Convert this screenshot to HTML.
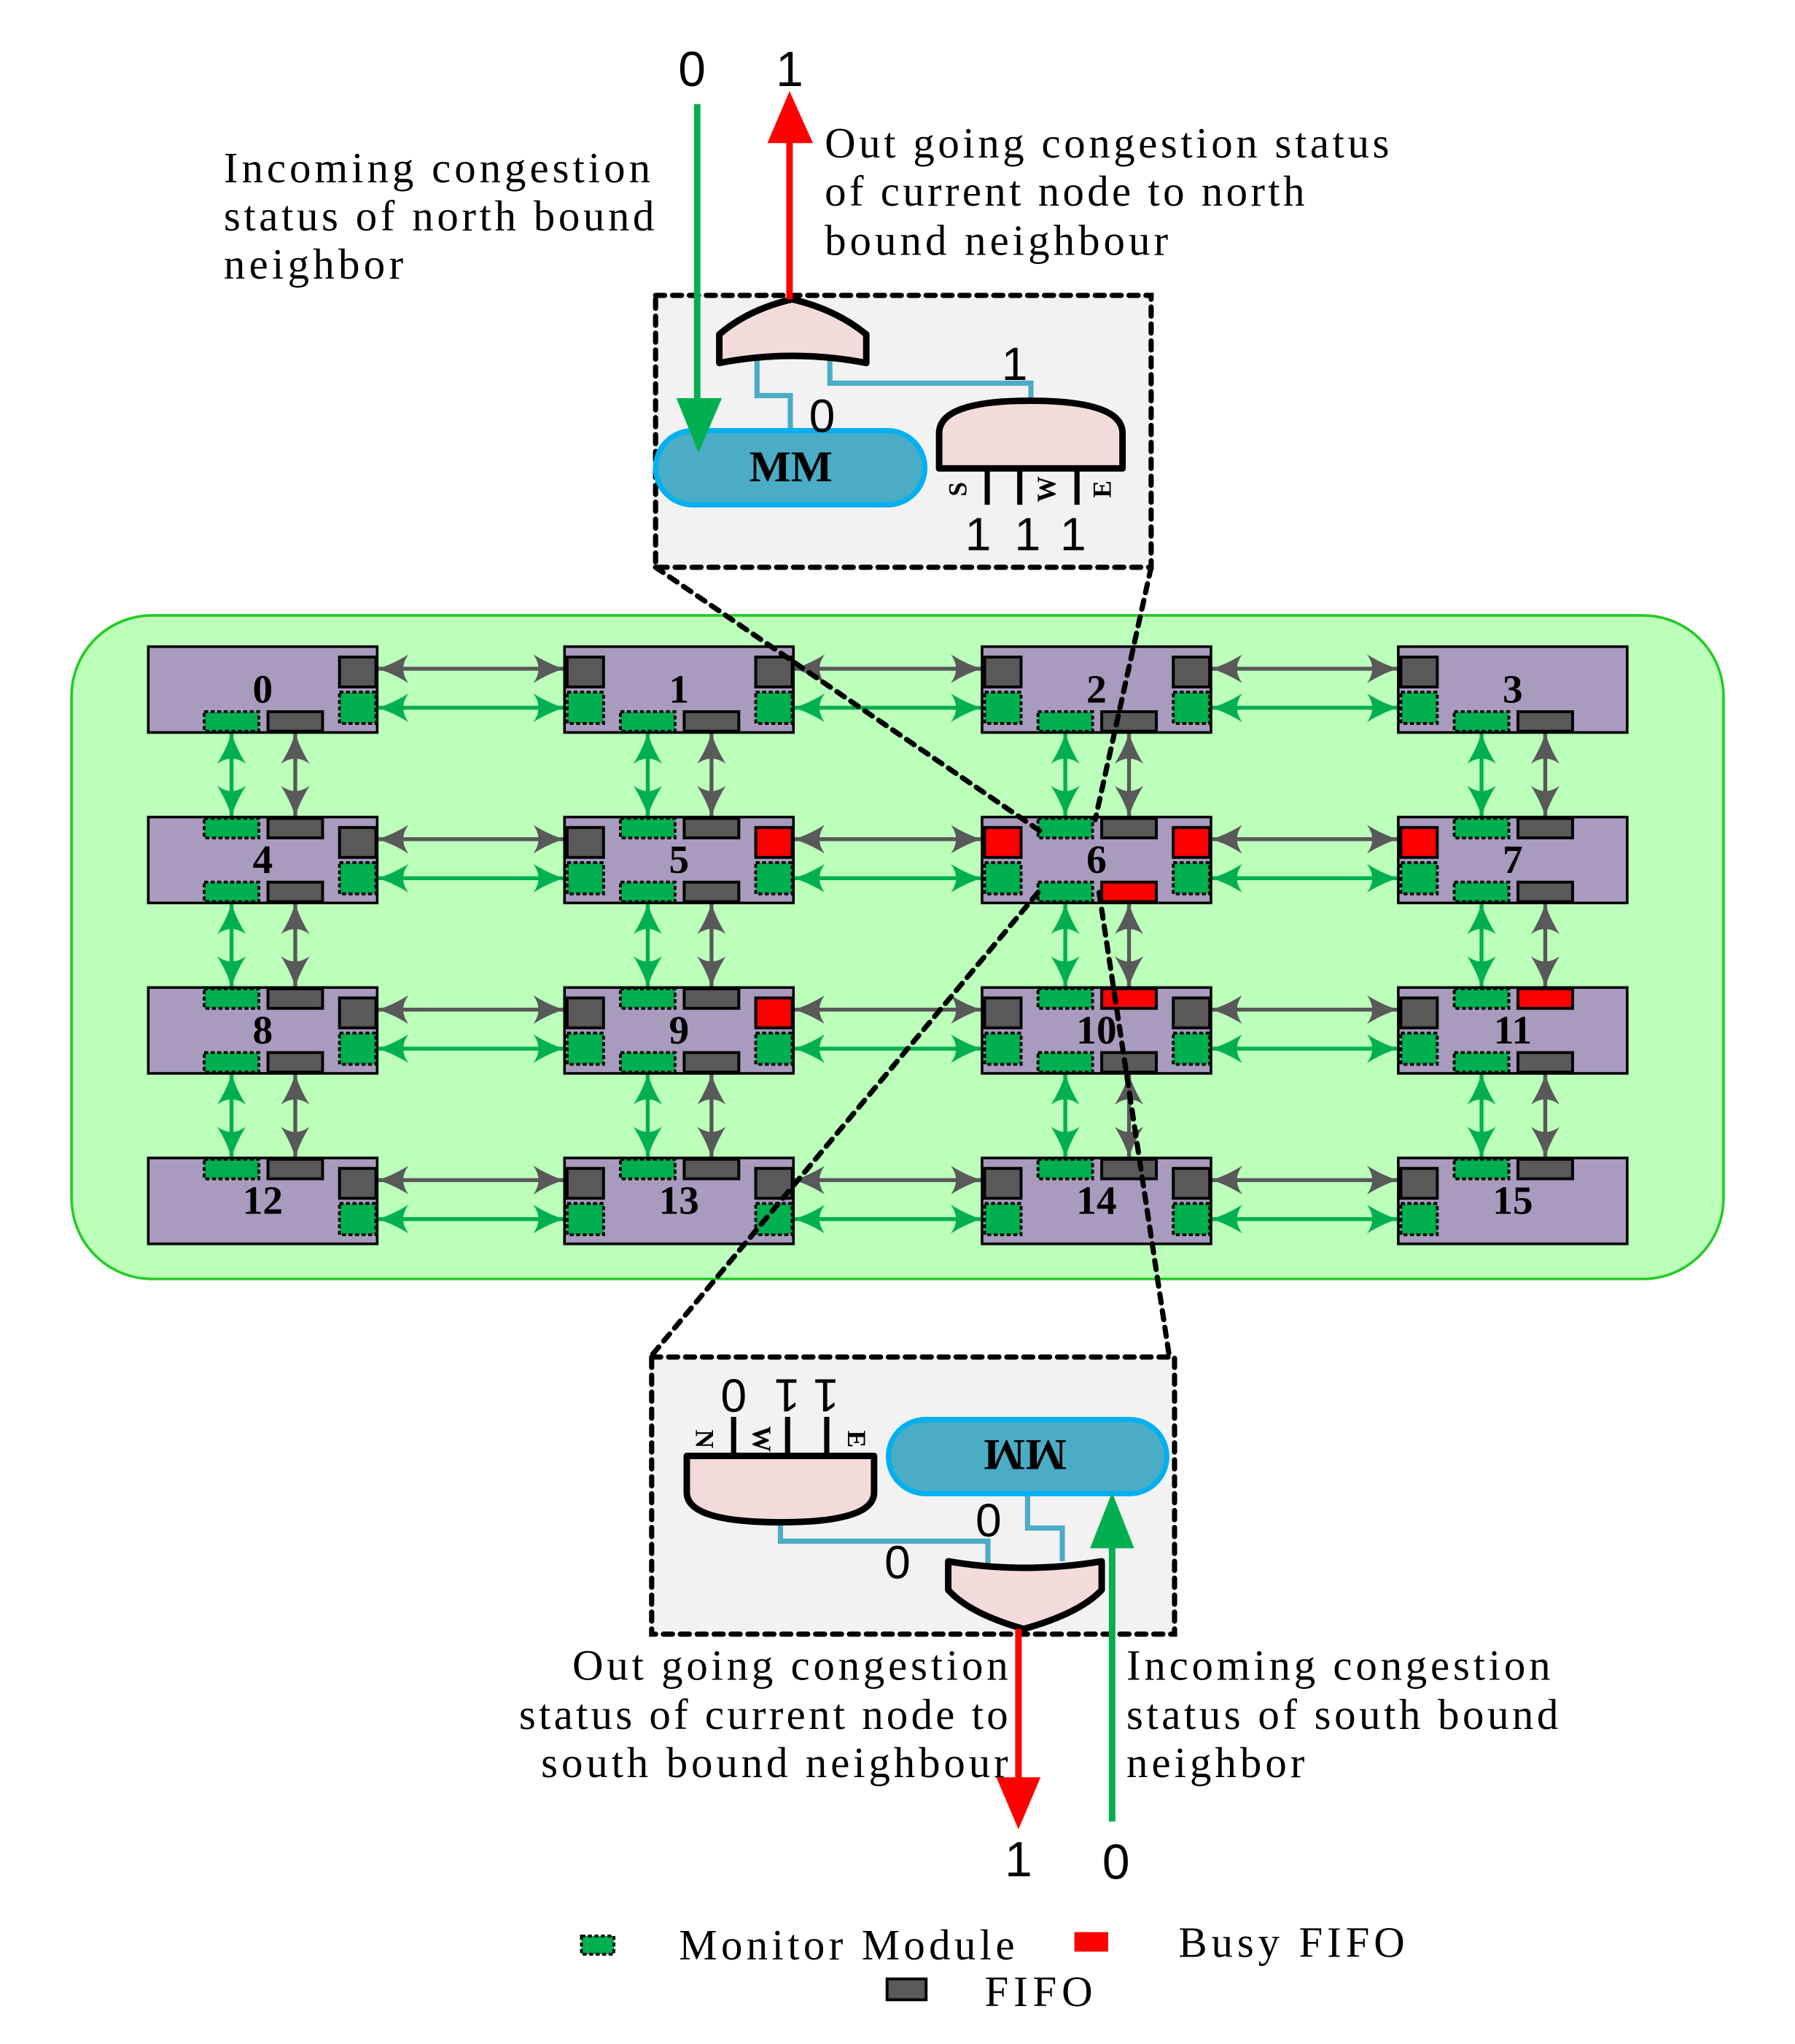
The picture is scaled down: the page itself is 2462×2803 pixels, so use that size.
<!DOCTYPE html>
<html><head><meta charset="utf-8"><style>
html,body{margin:0;padding:0;background:#fff;}
svg{display:block;}
.b{fill:#a89bbd;stroke:#000;stroke-width:2;}
.g{fill:#595959;stroke:#000;stroke-width:2.2;}
.r{fill:#ff0000;stroke:#000;stroke-width:2.2;}
.m{fill:#00b050;stroke:#000;stroke-width:2.2;stroke-dasharray:3 2;}
.num{font-family:"Liberation Serif",serif;font-weight:bold;font-size:31px;text-anchor:middle;}
.t{font-family:"Liberation Serif",serif;font-size:33px;}
.d{font-family:"Liberation Sans",sans-serif;font-size:38px;text-anchor:middle;}
.lg{stroke:#595959;stroke-width:3;marker-start:url(#ag);marker-end:url(#ag);}
.lm{stroke:#00b050;stroke-width:3;marker-start:url(#am);marker-end:url(#am);}
.w{fill:none;stroke:#4bacc6;stroke-width:4;}
.gate{fill:#f2dcdb;stroke:#000;stroke-width:5;stroke-linejoin:round;}
.dl{fill:none;stroke:#000;stroke-width:4;stroke-dasharray:7 6;stroke-linecap:round;}
.pin{stroke:#000;stroke-width:4;}
.sm{font-family:"Liberation Serif",serif;font-weight:bold;font-size:20px;text-anchor:middle;}
</style></head><body>
<svg width="2462" height="2803" viewBox="0 0 1380 1571" preserveAspectRatio="none" xmlns="http://www.w3.org/2000/svg">
<defs>
<marker id="ag" markerUnits="userSpaceOnUse" markerWidth="26" markerHeight="24" refX="24" refY="11" orient="auto-start-reverse" viewBox="0 0 26 24"><path d="M24,11 Q13,8 0,0 Q8,11 0,22 Q13,14 24,11Z" fill="#595959"/></marker>
<marker id="am" markerUnits="userSpaceOnUse" markerWidth="26" markerHeight="24" refX="24" refY="11" orient="auto-start-reverse" viewBox="0 0 26 24"><path d="M24,11 Q13,8 0,0 Q8,11 0,22 Q13,14 24,11Z" fill="#00b050"/></marker>
</defs>
<rect x="0" y="0" width="1380" height="1571" fill="#fff"/>

<text class="t" x="172" y="140" textLength="328" lengthAdjust="spacing">Incoming congestion</text>
<text class="t" x="172" y="177" textLength="331" lengthAdjust="spacing">status of north bound</text>
<text class="t" x="172" y="214" textLength="138" lengthAdjust="spacing">neighbor</text>
<text class="t" x="634" y="121" textLength="434" lengthAdjust="spacing">Out going congestion status</text>
<text class="t" x="634" y="158" textLength="369" lengthAdjust="spacing">of current node to north</text>
<text class="t" x="634" y="196" textLength="264" lengthAdjust="spacing">bound neighbour</text>
<text class="d" x="532" y="66">0</text>
<text class="d" x="607" y="66">1</text>

<rect x="504" y="227" width="381" height="209" fill="#f2f2f2"/>
<rect x="504" y="227" width="381" height="209" class="dl"/>
<path class="w" d="M582,274 V304 H607.6 V330"/>
<path class="w" d="M638,273 V294.5 H792.6 V308"/>
<path class="gate" d="M553,279 V257 Q575,238 609,230 Q643,238 666,257 V279 Q609,268 553,279Z"/>
<rect x="504" y="331" width="207" height="57" rx="28.5" fill="#4bacc6" stroke="#00b0f0" stroke-width="4"/>
<text x="608" y="370" class="num" style="font-size:34px">MM</text>
<text class="d" x="632" y="332" style="font-size:36px">0</text>
<text class="d" x="780" y="292" style="font-size:36px">1</text>
<line class="pin" x1="759" y1="360" x2="759" y2="388"/>
<line class="pin" x1="784" y1="360" x2="784" y2="388"/>
<line class="pin" x1="828" y1="360" x2="828" y2="388"/>
<path class="gate" d="M722,360 V333 Q722,308 792,308 Q863,308 863,333 V360Z"/>
<text class="sm" transform="translate(743,376) rotate(-90)">S</text>
<text class="sm" transform="translate(811,376) rotate(-90)">W</text>
<text class="sm" transform="translate(854,376) rotate(-90)">E</text>
<text class="d" x="752" y="423" style="font-size:36px">1</text>
<text class="d" x="790" y="423" style="font-size:36px">1</text>
<text class="d" x="825" y="423" style="font-size:36px">1</text>
<line x1="536" y1="80" x2="536" y2="310" stroke="#00b050" stroke-width="5"/>
<polygon points="520,306 555,306 537,348" fill="#00b050"/>
<line x1="607" y1="230" x2="607" y2="105" stroke="#ff0000" stroke-width="5"/>
<polygon points="590,110 625,110 607,70" fill="#ff0000"/>

<rect x="55" y="473" width="1270" height="510" rx="62" fill="#bbffbb" stroke="#22cc22" stroke-width="2"/>

<g>
<line class="lg" x1="290" y1="514" x2="434" y2="514"/><line class="lg" x1="610" y1="514" x2="755" y2="514"/><line class="lg" x1="931" y1="514" x2="1075" y2="514"/>
<line class="lm" x1="290" y1="544" x2="434" y2="544"/><line class="lm" x1="610" y1="544" x2="755" y2="544"/><line class="lm" x1="931" y1="544" x2="1075" y2="544"/>
<line class="lg" x1="290" y1="645" x2="434" y2="645"/><line class="lg" x1="610" y1="645" x2="755" y2="645"/><line class="lg" x1="931" y1="645" x2="1075" y2="645"/>
<line class="lm" x1="290" y1="675" x2="434" y2="675"/><line class="lm" x1="610" y1="675" x2="755" y2="675"/><line class="lm" x1="931" y1="675" x2="1075" y2="675"/>
<line class="lg" x1="290" y1="776" x2="434" y2="776"/><line class="lg" x1="610" y1="776" x2="755" y2="776"/><line class="lg" x1="931" y1="776" x2="1075" y2="776"/>
<line class="lm" x1="290" y1="806" x2="434" y2="806"/><line class="lm" x1="610" y1="806" x2="755" y2="806"/><line class="lm" x1="931" y1="806" x2="1075" y2="806"/>
<line class="lg" x1="290" y1="907" x2="434" y2="907"/><line class="lg" x1="610" y1="907" x2="755" y2="907"/><line class="lg" x1="931" y1="907" x2="1075" y2="907"/>
<line class="lm" x1="290" y1="937" x2="434" y2="937"/><line class="lm" x1="610" y1="937" x2="755" y2="937"/><line class="lm" x1="931" y1="937" x2="1075" y2="937"/>
</g>
<g>
<line class="lm" x1="178" y1="563" x2="178" y2="628"/><line class="lm" x1="178" y1="694" x2="178" y2="759"/><line class="lm" x1="178" y1="825" x2="178" y2="890"/>
<line class="lg" x1="227" y1="563" x2="227" y2="628"/><line class="lg" x1="227" y1="694" x2="227" y2="759"/><line class="lg" x1="227" y1="825" x2="227" y2="890"/>
<line class="lm" x1="498" y1="563" x2="498" y2="628"/><line class="lm" x1="498" y1="694" x2="498" y2="759"/><line class="lm" x1="498" y1="825" x2="498" y2="890"/>
<line class="lg" x1="547" y1="563" x2="547" y2="628"/><line class="lg" x1="547" y1="694" x2="547" y2="759"/><line class="lg" x1="547" y1="825" x2="547" y2="890"/>
<line class="lm" x1="819" y1="563" x2="819" y2="628"/><line class="lm" x1="819" y1="694" x2="819" y2="759"/><line class="lm" x1="819" y1="825" x2="819" y2="890"/>
<line class="lg" x1="868" y1="563" x2="868" y2="628"/><line class="lg" x1="868" y1="694" x2="868" y2="759"/><line class="lg" x1="868" y1="825" x2="868" y2="890"/>
<line class="lm" x1="1139" y1="563" x2="1139" y2="628"/><line class="lm" x1="1139" y1="694" x2="1139" y2="759"/><line class="lm" x1="1139" y1="825" x2="1139" y2="890"/>
<line class="lg" x1="1188" y1="563" x2="1188" y2="628"/><line class="lg" x1="1188" y1="694" x2="1188" y2="759"/><line class="lg" x1="1188" y1="825" x2="1188" y2="890"/>
</g>

<g transform="translate(114,497)"><rect class="b" width="176" height="66"/><rect class="g" x="147" y="8" width="28" height="23"/><rect class="m" x="147" y="35" width="28" height="24"/><rect class="m" x="43" y="50" width="42" height="15"/><rect class="g" x="92" y="50" width="42" height="15"/><text class="num" x="88" y="43">0</text></g>
<g transform="translate(434,497)"><rect class="b" width="176" height="66"/><rect class="g" x="147" y="8" width="28" height="23"/><rect class="m" x="147" y="35" width="28" height="24"/><rect class="g" x="2" y="8" width="28" height="23"/><rect class="m" x="2" y="35" width="28" height="24"/><rect class="m" x="43" y="50" width="42" height="15"/><rect class="g" x="92" y="50" width="42" height="15"/><text class="num" x="88" y="43">1</text></g>
<g transform="translate(755,497)"><rect class="b" width="176" height="66"/><rect class="g" x="147" y="8" width="28" height="23"/><rect class="m" x="147" y="35" width="28" height="24"/><rect class="g" x="2" y="8" width="28" height="23"/><rect class="m" x="2" y="35" width="28" height="24"/><rect class="m" x="43" y="50" width="42" height="15"/><rect class="g" x="92" y="50" width="42" height="15"/><text class="num" x="88" y="43">2</text></g>
<g transform="translate(1075,497)"><rect class="b" width="176" height="66"/><rect class="g" x="2" y="8" width="28" height="23"/><rect class="m" x="2" y="35" width="28" height="24"/><rect class="m" x="43" y="50" width="42" height="15"/><rect class="g" x="92" y="50" width="42" height="15"/><text class="num" x="88" y="43">3</text></g>
<g transform="translate(114,628)"><rect class="b" width="176" height="66"/><rect class="g" x="147" y="8" width="28" height="23"/><rect class="m" x="147" y="35" width="28" height="24"/><rect class="m" x="43" y="1" width="42" height="15"/><rect class="g" x="92" y="1" width="42" height="15"/><rect class="m" x="43" y="50" width="42" height="15"/><rect class="g" x="92" y="50" width="42" height="15"/><text class="num" x="88" y="43">4</text></g>
<g transform="translate(434,628)"><rect class="b" width="176" height="66"/><rect class="r" x="147" y="8" width="28" height="23"/><rect class="m" x="147" y="35" width="28" height="24"/><rect class="g" x="2" y="8" width="28" height="23"/><rect class="m" x="2" y="35" width="28" height="24"/><rect class="m" x="43" y="1" width="42" height="15"/><rect class="g" x="92" y="1" width="42" height="15"/><rect class="m" x="43" y="50" width="42" height="15"/><rect class="g" x="92" y="50" width="42" height="15"/><text class="num" x="88" y="43">5</text></g>
<g transform="translate(755,628)"><rect class="b" width="176" height="66"/><rect class="r" x="147" y="8" width="28" height="23"/><rect class="m" x="147" y="35" width="28" height="24"/><rect class="r" x="2" y="8" width="28" height="23"/><rect class="m" x="2" y="35" width="28" height="24"/><rect class="m" x="43" y="1" width="42" height="15"/><rect class="g" x="92" y="1" width="42" height="15"/><rect class="m" x="43" y="50" width="42" height="15"/><rect class="r" x="92" y="50" width="42" height="15"/><text class="num" x="88" y="43">6</text></g>
<g transform="translate(1075,628)"><rect class="b" width="176" height="66"/><rect class="r" x="2" y="8" width="28" height="23"/><rect class="m" x="2" y="35" width="28" height="24"/><rect class="m" x="43" y="1" width="42" height="15"/><rect class="g" x="92" y="1" width="42" height="15"/><rect class="m" x="43" y="50" width="42" height="15"/><rect class="g" x="92" y="50" width="42" height="15"/><text class="num" x="88" y="43">7</text></g>
<g transform="translate(114,759)"><rect class="b" width="176" height="66"/><rect class="g" x="147" y="8" width="28" height="23"/><rect class="m" x="147" y="35" width="28" height="24"/><rect class="m" x="43" y="1" width="42" height="15"/><rect class="g" x="92" y="1" width="42" height="15"/><rect class="m" x="43" y="50" width="42" height="15"/><rect class="g" x="92" y="50" width="42" height="15"/><text class="num" x="88" y="43">8</text></g>
<g transform="translate(434,759)"><rect class="b" width="176" height="66"/><rect class="r" x="147" y="8" width="28" height="23"/><rect class="m" x="147" y="35" width="28" height="24"/><rect class="g" x="2" y="8" width="28" height="23"/><rect class="m" x="2" y="35" width="28" height="24"/><rect class="m" x="43" y="1" width="42" height="15"/><rect class="g" x="92" y="1" width="42" height="15"/><rect class="m" x="43" y="50" width="42" height="15"/><rect class="g" x="92" y="50" width="42" height="15"/><text class="num" x="88" y="43">9</text></g>
<g transform="translate(755,759)"><rect class="b" width="176" height="66"/><rect class="g" x="147" y="8" width="28" height="23"/><rect class="m" x="147" y="35" width="28" height="24"/><rect class="g" x="2" y="8" width="28" height="23"/><rect class="m" x="2" y="35" width="28" height="24"/><rect class="m" x="43" y="1" width="42" height="15"/><rect class="r" x="92" y="1" width="42" height="15"/><rect class="m" x="43" y="50" width="42" height="15"/><rect class="g" x="92" y="50" width="42" height="15"/><text class="num" x="88" y="43">10</text></g>
<g transform="translate(1075,759)"><rect class="b" width="176" height="66"/><rect class="g" x="2" y="8" width="28" height="23"/><rect class="m" x="2" y="35" width="28" height="24"/><rect class="m" x="43" y="1" width="42" height="15"/><rect class="r" x="92" y="1" width="42" height="15"/><rect class="m" x="43" y="50" width="42" height="15"/><rect class="g" x="92" y="50" width="42" height="15"/><text class="num" x="88" y="43">11</text></g>
<g transform="translate(114,890)"><rect class="b" width="176" height="66"/><rect class="g" x="147" y="8" width="28" height="23"/><rect class="m" x="147" y="35" width="28" height="24"/><rect class="m" x="43" y="1" width="42" height="15"/><rect class="g" x="92" y="1" width="42" height="15"/><text class="num" x="88" y="43">12</text></g>
<g transform="translate(434,890)"><rect class="b" width="176" height="66"/><rect class="g" x="147" y="8" width="28" height="23"/><rect class="m" x="147" y="35" width="28" height="24"/><rect class="g" x="2" y="8" width="28" height="23"/><rect class="m" x="2" y="35" width="28" height="24"/><rect class="m" x="43" y="1" width="42" height="15"/><rect class="g" x="92" y="1" width="42" height="15"/><text class="num" x="88" y="43">13</text></g>
<g transform="translate(755,890)"><rect class="b" width="176" height="66"/><rect class="g" x="147" y="8" width="28" height="23"/><rect class="m" x="147" y="35" width="28" height="24"/><rect class="g" x="2" y="8" width="28" height="23"/><rect class="m" x="2" y="35" width="28" height="24"/><rect class="m" x="43" y="1" width="42" height="15"/><rect class="g" x="92" y="1" width="42" height="15"/><text class="num" x="88" y="43">14</text></g>
<g transform="translate(1075,890)"><rect class="b" width="176" height="66"/><rect class="g" x="2" y="8" width="28" height="23"/><rect class="m" x="2" y="35" width="28" height="24"/><rect class="m" x="43" y="1" width="42" height="15"/><rect class="g" x="92" y="1" width="42" height="15"/><text class="num" x="88" y="43">15</text></g>

<line class="dl" x1="504" y1="436" x2="800" y2="639"/>
<line class="dl" x1="885" y1="436" x2="842" y2="630"/>
<line class="dl" x1="798" y1="686" x2="500" y2="1043"/>
<line class="dl" x1="845" y1="686" x2="899" y2="1043"/>

<rect x="501" y="1043" width="402" height="213" fill="#f2f2f2"/>
<rect x="501" y="1043" width="402" height="213" class="dl"/>
<line class="pin" x1="564" y1="1089" x2="564" y2="1119"/>
<line class="pin" x1="605.5" y1="1089" x2="605.5" y2="1119"/>
<line class="pin" x1="635.6" y1="1089" x2="635.6" y2="1119"/>
<path class="w" d="M600,1170 V1184.5 H759.5 V1204"/>
<path class="w" d="M790,1150 V1174.4 H816.7 V1200"/>
<path class="gate" d="M528,1119 H672 V1147 Q672,1170 600,1170 Q528,1170 528,1147Z"/>
<rect x="683" y="1091" width="214" height="57" rx="28.5" fill="#4bacc6" stroke="#00b0f0" stroke-width="4"/>
<text class="num" style="font-size:34px" transform="translate(788,1107) rotate(180)">MM</text>
<text class="d" style="font-size:36px" transform="translate(564,1060) rotate(180)">0</text>
<text class="d" style="font-size:36px" transform="translate(605,1060) rotate(180)">1</text>
<text class="d" style="font-size:36px" transform="translate(635,1060) rotate(180)">1</text>
<text class="sm" transform="translate(535,1106) rotate(90)">N</text>
<text class="sm" transform="translate(579,1106) rotate(90)">W</text>
<text class="sm" transform="translate(652,1106) rotate(90)">E</text>
<text class="d" x="760" y="1181" style="font-size:36px">0</text>
<text class="d" x="690" y="1213" style="font-size:36px">0</text>
<path class="gate" d="M729,1200 Q787,1210 847,1200 V1222 Q830,1240 787,1252 Q745,1240 729,1222Z"/>
<line x1="783" y1="1252" x2="783" y2="1372" stroke="#ff0000" stroke-width="5"/>
<polygon points="766,1366 800,1366 783,1406" fill="#ff0000"/>
<line x1="855" y1="1400" x2="855" y2="1185" stroke="#00b050" stroke-width="5"/>
<polygon points="838,1190 872,1190 855,1147" fill="#00b050"/>
<text class="d" x="783" y="1442">1</text>
<text class="d" x="858" y="1444">0</text>

<text class="t" x="440" y="1291" textLength="335" lengthAdjust="spacing">Out going congestion</text>
<text class="t" x="399" y="1329" textLength="376" lengthAdjust="spacing">status of current node to</text>
<text class="t" x="416" y="1366" textLength="359" lengthAdjust="spacing">south bound neighbour</text>
<text class="t" x="866" y="1291" textLength="326" lengthAdjust="spacing">Incoming congestion</text>
<text class="t" x="866" y="1329" textLength="332" lengthAdjust="spacing">status of south bound</text>
<text class="t" x="866" y="1366" textLength="137" lengthAdjust="spacing">neighbor</text>

<rect class="m" x="447" y="1488" width="25" height="14"/>
<text class="t" x="522" y="1506" textLength="258" lengthAdjust="spacing">Monitor Module</text>
<rect x="826" y="1485" width="26" height="15" fill="#ff0000"/>
<text class="t" x="906" y="1504" textLength="174" lengthAdjust="spacing">Busy FIFO</text>
<rect class="g" x="682" y="1521" width="30" height="16"/>
<text class="t" x="757" y="1542" textLength="83" lengthAdjust="spacing">FIFO</text>
</svg>
</body></html>
